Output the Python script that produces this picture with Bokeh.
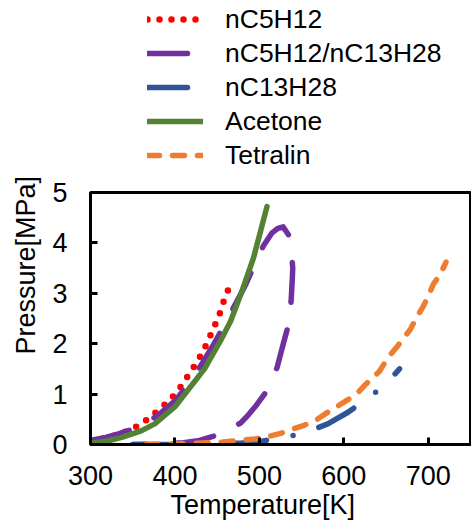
import math
from bokeh.plotting import figure
from bokeh.layouts import column
from bokeh.models import Legend, LegendItem, FixedTicker, Range1d, Title
from bokeh.embed import file_html
from bokeh.resources import INLINE

# ---- data ----
pentane_T = [300, 310, 320, 335, 348, 360, 370, 382, 393, 403, 411, 419, 427, 434, 440, 446, 452, 456, 461, 467]
pentane_P = [0.07, 0.10, 0.14, 0.21, 0.30, 0.40, 0.54, 0.70, 0.87, 1.05, 1.25, 1.45, 1.66, 1.87, 2.09, 2.32, 2.54, 2.76, 2.99, 3.22]

mix_T = [300, 318, 333, 347, 361, 380, 401, 418, 430, 446, 462, 484, 495, 505, 515, 522, 528,
         534.5, 538.3, 539.5, 539, 537.5, 534.5, 528, 521, 509, 496, 487, 478, 460, 445, 429, 410, 390, 370, 350]
mix_P = [0.08, 0.14, 0.21, 0.29, 0.375, 0.58, 0.88, 1.25, 1.55, 1.99, 2.48, 3.18, 3.60, 3.95, 4.20, 4.29, 4.32,
         4.16, 3.77, 3.50, 3.29, 2.83, 2.38, 1.98, 1.53, 1.07, 0.77, 0.59, 0.43, 0.26, 0.16, 0.08, 0.035, 0.015, 0.005, 0.0]

tridecane_T = [350, 400, 420, 450, 480, 503, 520, 540, 555, 581, 605, 625, 647, 666]
tridecane_P = [0.0, 0.002, 0.005, 0.01, 0.03, 0.065, 0.12, 0.18, 0.24, 0.41, 0.64, 0.88, 1.15, 1.50]

acetone_T = [300, 320, 337, 360, 376, 400, 415, 435, 454, 466, 478, 493, 509]
acetone_P = [0.03, 0.07, 0.14, 0.27, 0.41, 0.75, 1.07, 1.50, 2.06, 2.45, 2.98, 3.70, 4.72]

tetralin_T = [366, 400, 450, 476, 495, 511, 525, 540, 552, 566, 581, 603, 615, 625, 642, 653, 663, 670, 679, 686, 693, 700, 706, 714, 721]
tetralin_P = [0.0, 0.01, 0.04, 0.08, 0.11, 0.16, 0.22, 0.31, 0.375, 0.47, 0.64, 0.87, 1.00, 1.18, 1.45, 1.74, 1.94, 2.09, 2.29, 2.52, 2.71, 2.94, 3.18, 3.37, 3.62]

series_names = ["nC5H12", "nC5H12/nC13H28", "nC13H28", "Acetone", "Tetralin"]
series_colors = ["#FF0000", "#7030A0", "#2F5597", "#548235", "#ED7D31"]
series_dashes = ["0 12", "40 28", "40 27 0 27", "solid", "12 13"]
series_widths = [6.5, 5.5, 5.5, 5.5, 5.5]

x_ticks = [300, 400, 500, 600, 700]
y_ticks = [0, 1, 2, 3, 4, 5]
x_title = "Temperature[K]"
y_title = "Pressure[MPa]"

FONT = "Liberation Sans"
W = 471
TOP_H = 172

# ---------------- main chart ----------------
p = figure(width=W, height=520 - TOP_H, output_backend="svg", toolbar_location=None,
           x_range=Range1d(300, 750), y_range=Range1d(0, 5),
           min_border_left=87, min_border_right=1, min_border_top=20, min_border_bottom=76)
p.background_fill_color = "white"
p.border_fill_color = "white"
p.outline_line_color = "black"
p.outline_line_width = 3
p.grid.visible = False

for ax in (p.xaxis[0], p.yaxis[0]):
    ax.axis_line_color = "black"
    ax.axis_line_width = 3
    ax.major_tick_line_color = "black"
    ax.major_tick_line_width = 3
    ax.major_tick_in = 7
    ax.major_tick_out = 0
    ax.minor_tick_line_color = None
    ax.major_label_text_font = FONT
    ax.major_label_text_font_size = "27px"
    ax.major_label_text_color = "black"

p.xaxis[0].ticker = FixedTicker(ticks=x_ticks)
p.yaxis[0].ticker = FixedTicker(ticks=y_ticks)
p.xaxis[0].major_label_standoff = 21
p.yaxis[0].major_label_standoff = 23

# axis titles as side-panel titles (offset like the reference)
p.add_layout(Title(text=y_title, align="left", offset=90, standoff=17,
                   text_font=FONT, text_font_size="27px", text_font_style="normal",
                   text_color="black"), "left")
p.add_layout(Title(text=x_title, align="left", offset=80, standoff=0,
                   text_font=FONT, text_font_size="27px", text_font_style="normal",
                   text_color="black"), "below")

data = [(pentane_T, pentane_P), (mix_T, mix_P), (tridecane_T, tridecane_P),
        (acetone_T, acetone_P), (tetralin_T, tetralin_P)]
for (tx, py), col, dash, lw in zip(data, series_colors, series_dashes, series_widths):
    p.line(tx, py, line_color=col, line_width=lw, line_dash=dash, line_cap="round", line_join="round")

# ---------------- legend strip above the chart ----------------
top = figure(width=W, height=TOP_H, output_backend="svg", toolbar_location=None,
             x_range=Range1d(0, W), y_range=Range1d(0, TOP_H),
             x_axis_location=None, y_axis_location=None,
             min_border_left=0, min_border_right=0, min_border_top=0, min_border_bottom=0)
top.outline_line_color = None
top.grid.visible = False
top.background_fill_color = "white"
top.border_fill_color = "white"

nan = float("nan")
sample_renderers = []
for col, dash, lw in zip(series_colors, series_dashes, series_widths):
    sample_renderers.append(top.line([nan], [nan], line_color=col, line_width=lw, line_dash=dash,
                                     line_cap="round", line_join="round"))

legend = Legend(items=[LegendItem(label=n, renderers=[r]) for n, r in zip(series_names, sample_renderers)],
                location=(57, 0), orientation="vertical",
                glyph_width=56, glyph_height=34, label_height=34, spacing=0,
                padding=0, margin=0, label_standoff=22,
                border_line_color=None, background_fill_alpha=0,
                label_text_font=FONT, label_text_font_size="26.5px", label_text_color="black")
top.add_layout(legend)

layout = column(top, p, spacing=0)
open("out.html", "w").write(file_html(layout, INLINE))
